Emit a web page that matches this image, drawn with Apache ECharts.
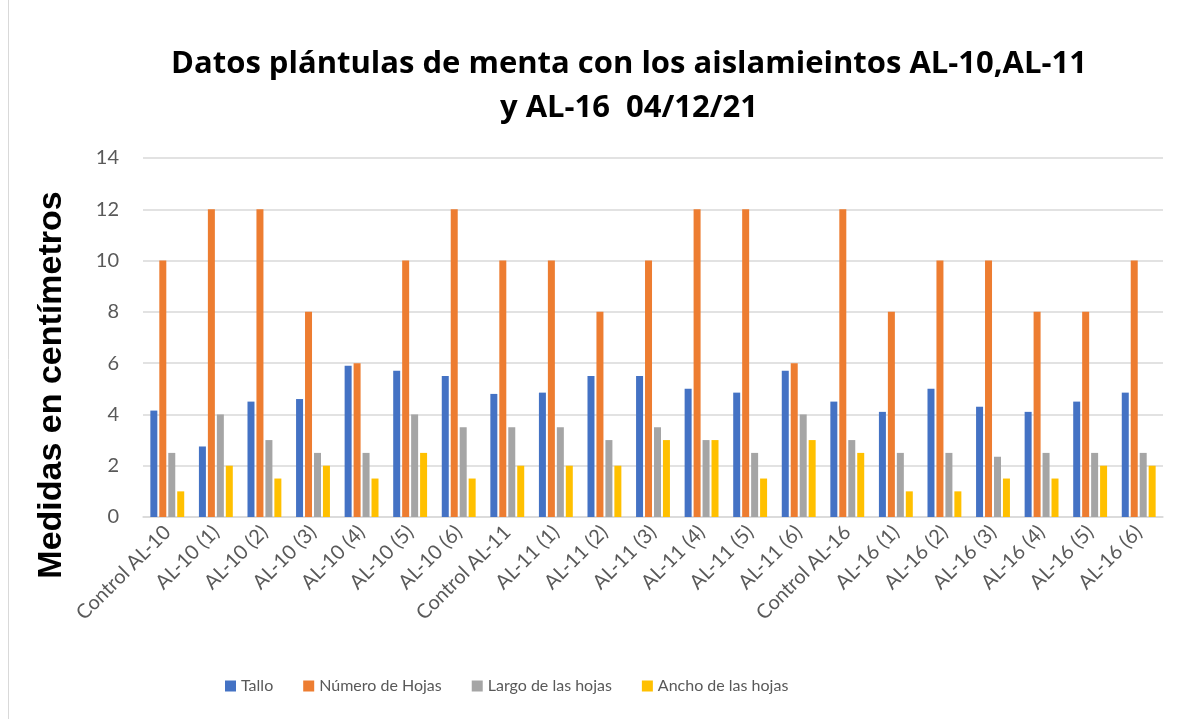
<!DOCTYPE html>
<html><head><meta charset="utf-8">
<script src="https://cdn.jsdelivr.net/npm/echarts@6/dist/echarts.min.js"></script>
<style>html,body{margin:0;padding:0;background:#fff}#c{width:1182px;height:719px}</style>
</head><body><div id="c"></div>
<script>
var categories = ['Control AL-10','AL-10 (1)','AL-10 (2)','AL-10 (3)','AL-10 (4)','AL-10 (5)','AL-10 (6)',
  'Control AL-11','AL-11 (1)','AL-11 (2)','AL-11 (3)','AL-11 (4)','AL-11 (5)','AL-11 (6)',
  'Control AL-16','AL-16 (1)','AL-16 (2)','AL-16 (3)','AL-16 (4)','AL-16 (5)','AL-16 (6)'];
var tallo = [4.15,2.75,4.5,4.6,5.9,5.7,5.5, 4.8,4.85,5.5,5.5,5.0,4.85,5.7, 4.5,4.1,5.0,4.3,4.1,4.5,4.85];
var numeroHojas = [10,12,12,8,6,10,12, 10,10,8,10,12,12,6, 12,8,10,10,8,8,10];
var largoHojas = [2.5,4,3,2.5,2.5,4,3.5, 3.5,3.5,3,3.5,3,2.5,4, 3,2.5,2.5,2.35,2.5,2.5,2.5];
var anchoHojas = [1,2,1.5,2,1.5,2.5,1.5, 2,2,2,3,3,1.5,3, 2.5,1,1,1.5,1.5,2,2];
var seriesNames = ['Tallo','Número de Hojas','Largo de las hojas','Ancho de las hojas'];
var colors = ['#4472C4','#ED7D31','#A5A5A5','#FFC000'];
var yTicks = {min:0, max:14, interval:2};
var titleText = 'Datos plántulas de menta con los aislamieintos AL-10,AL-11\ny AL-16  04/12/21';
var yAxisTitle = 'Medidas en centímetros';

var chart = echarts.init(document.getElementById('c'));
var dataSets = [tallo, numeroHojas, largoHojas, anchoHojas];
chart.setOption({
  animation:false,
  color: colors,
  title: {
    text: titleText,
    left: 624, top: 37, textAlign:'center',
    textStyle: {fontFamily:'Open Sans', fontWeight:'bold', fontSize:31, color:'#000', lineHeight:44}
  },
  grid: {left:143, right:19, top:158, bottom:202},
  legend: {
    bottom: 20, left:220, itemWidth:11, itemHeight:11, itemGap:30,
    icon:'rect',
    textStyle:{fontFamily:'Lato', fontSize:16, color:'#595959'},
    data: seriesNames
  },
  xAxis: {
    type:'category', data: categories,
    axisTick:{show:false},
    axisLine:{lineStyle:{color:'#D9D9D9', width:1.5}},
    axisLabel:{rotate:45, interval:0, fontFamily:'Lato', fontSize:20, color:'#595959', margin:12}
  },
  yAxis: {
    type:'value', min:yTicks.min, max:yTicks.max, interval:yTicks.interval,
    axisLine:{show:false}, axisTick:{show:false},
    splitLine:{lineStyle:{color:'#D9D9D9', width:1.5}},
    axisLabel:{fontFamily:'Lato', fontSize:20, color:'#595959', margin:24}
  },
  graphic: [
    {type:'line', shape:{x1:8.5,y1:0,x2:8.5,y2:719}, style:{stroke:'#D9D9D9', lineWidth:1}},
    {type:'text', x:52, y:385, rotation:Math.PI/2,
     style:{text:yAxisTitle, fontFamily:'Liberation Sans', fontWeight:'bold', fontSize:34, fill:'#000', align:'center', verticalAlign:'middle'}}
  ],
  series: seriesNames.map(function(n,i){
    return {name:n, type:'bar', data:dataSets[i], barWidth:7, barGap:'28%'};
  })
});
</script></body></html>
